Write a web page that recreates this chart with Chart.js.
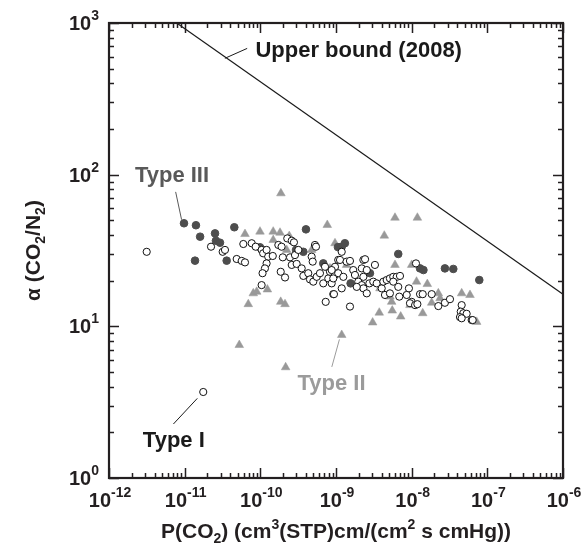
<!DOCTYPE html>
<html>
<head>
<meta charset="utf-8">
<script src="https://cdn.jsdelivr.net/npm/chart.js@4.4.1/dist/chart.umd.min.js"></script>
<style>
  html, body { margin: 0; padding: 0; background: #fff; }
  canvas { display: block; }
</style>
</head>
<body>
<canvas id="chart" width="587" height="552"></canvas>
<script>
// Type I membranes (open circles)
const typeIPerm = [
  3.15e-12, 1.76e-11, 2.23e-11, 3.18e-11, 3.41e-11, 4.87e-11, 5.67e-11, 6.27e-11, 5.96e-11, 7.69e-11,
  8.68e-11, 1.04e-10, 1.09e-10, 1.21e-10, 1.27e-10, 1.46e-10, 1.21e-10, 1.15e-10, 1.07e-10, 1.04e-10,
  1.86e-10, 2.12e-10, 1.73e-10, 1.91e-10, 1.98e-10, 2.27e-10, 2.60e-10, 2.78e-10, 2.47e-10, 2.87e-10,
  3.18e-10, 2.60e-10, 3.02e-10, 3.52e-10, 3.70e-10, 4.30e-10, 4.53e-10, 5.01e-10, 4.77e-10, 4.92e-10,
  5.27e-10, 5.44e-10, 5.56e-10, 6.14e-10, 6.79e-10, 7.91e-10, 8.77e-10, 9.2e-10, 7.31e-10, 8.33e-10,
  9.7e-10, 7.16e-10, 1.07e-9, 1.19e-9, 1.13e-9, 1.38e-9, 1.53e-9, 9.7e-10, 8.77e-10, 1.07e-9,
  1.25e-9, 9.2e-10, 1.19e-9, 9.4e-10, 1.53e-9, 1.69e-9, 1.78e-9, 2.30e-9, 2.42e-9, 2.19e-9,
  2.30e-9, 2.55e-9, 1.97e-9, 2.19e-9, 2.30e-9, 1.88e-9, 2.55e-9, 3.27e-9, 2.76e-9, 3.11e-9,
  3.45e-9, 4.02e-9, 4.22e-9, 4.68e-9, 5.16e-9, 5.71e-9, 6.34e-9, 7.01e-9, 5.71e-9, 6.65e-9,
  4.44e-9, 5.16e-9, 6.86e-9, 9.2e-9, 8.6e-9, 1.0e-8, 9.5e-9, 1.11e-8, 1.19e-8, 1.14e-8,
  1.29e-8, 1.40e-8, 1.84e-8, 2.25e-8, 2.75e-8, 3.21e-8, 4.58e-8, 4.45e-8, 4.81e-8, 5.33e-8,
  4.35e-8, 4.58e-8, 6.21e-8, 6.40e-8
];
const typeIAlpha = [
  31.0, 3.69, 33.5, 31.0, 31.9, 27.8, 27.0, 26.4, 34.9, 35.3,
  33.5, 31.9, 30.3, 31.9, 28.8, 29.1, 26.0, 24.1, 22.4, 18.7,
  22.9, 21.0, 34.4, 33.5, 28.5, 38.0, 36.7, 35.8, 28.5, 29.5,
  31.9, 25.4, 25.8, 24.1, 21.5, 22.4, 20.4, 19.7, 28.8, 26.7,
  34.4, 33.5, 21.2, 22.4, 19.2, 20.7, 19.2, 16.3, 14.5, 22.9,
  21.8, 24.7, 27.4, 31.0, 27.4, 26.7, 27.0, 24.7, 23.5, 22.4,
  21.2, 20.7, 17.8, 16.3, 13.5, 23.5, 21.8, 27.4, 27.7, 24.1,
  21.2, 23.5, 19.7, 18.7, 17.8, 18.2, 16.5, 25.4, 19.2, 19.7,
  19.2, 17.8, 19.7, 20.2, 20.7, 21.2, 21.2, 21.5, 19.7, 18.2,
  16.1, 16.5, 15.7, 17.8, 16.1, 14.5, 14.2, 13.8, 14.0, 26.0,
  16.3, 16.3, 16.3, 13.6, 14.3, 15.1, 13.8, 12.5, 12.2, 12.1,
  11.5, 11.3, 11.0, 11.0
];

// Type II membranes (grey triangles)
const typeIIPerm = [
  1.87e-10, 6.27e-11, 9.9e-11, 1.48e-10, 1.82e-10, 2.41e-10, 1.48e-10, 7.67e-10, 9.7e-10, 8.07e-11,
  8.95e-11, 1.24e-10, 6.93e-11, 1.86e-10, 2.12e-10, 5.27e-11, 2.16e-10, 2.23e-10, 4.77e-10, 8.33e-10,
  6.02e-9, 1.19e-8, 4.35e-9, 6.02e-9, 1.0e-8, 1.16e-8, 1.61e-8, 3.81e-9, 5.16e-9, 5.44e-9,
  3.73e-9, 5.54e-9, 7.16e-9, 3.05e-9, 1.40e-8, 1.84e-8, 2.25e-8, 2.37e-8, 4.58e-8, 5.90e-8,
  7.23e-8, 1.19e-9, 1.38e-9, 9.5e-9
];
const typeIIAlpha = [
  75.3, 40.6, 42.1, 42.1, 41.4, 39.4, 37.1, 46.6, 35.3, 16.5,
  16.9, 17.5, 14.0, 14.5, 14.0, 7.53, 5.37, 31.9, 31.9, 24.1,
  52.0, 52.0, 39.6, 25.4, 25.4, 19.7, 19.0, 17.8, 15.7, 14.5,
  12.3, 12.7, 11.6, 10.6, 12.2, 14.3, 16.5, 15.3, 16.5, 16.1,
  10.7, 8.77, 25.4, 13.8
];

// Type III membranes (dark filled circles)
const typeIIIPerm = [
  9.8e-12, 1.41e-11, 1.60e-11, 1.37e-11, 2.52e-11, 2.59e-11, 2.93e-11, 3.59e-11, 4.53e-11, 9.9e-11,
  1.09e-10, 4.01e-10, 2.96e-10, 3.70e-10, 6.79e-10, 1.06e-9, 1.19e-9, 1.31e-9, 6.65e-9, 1.29e-8,
  1.43e-8, 2.75e-8, 3.55e-8, 7.83e-8, 1.56e-9, 2.81e-9
];
const typeIIIAlpha = [
  47.8, 46.4, 39.0, 27.1, 41.0, 36.7, 35.6, 27.1, 45.0, 33.2,
  31.9, 43.6, 31.9, 31.0, 26.0, 33.3, 33.5, 35.3, 30.0, 24.1,
  23.5, 24.1, 23.9, 20.2, 19.2, 22.4
];

// Robeson upper bound (2008)
const boundPerm = [7.85e-12, 1e-6];
const boundAlpha = [1000, 16.3];

// tick labels (powers of ten)
const xTickExp = [-12, -11, -10, -9, -8, -7, -6];
const yTickExp = [0, 1, 2, 3];

const toPoints = (xs, ys) => xs.map((v, i) => ({ x: v, y: ys[i] }));

const FONT = '"Liberation Sans", Arial, Helvetica, sans-serif';

// annotation texts, anchored in data coordinates
const notes = [
  { text: "Upper bound (2008)", color: "#1a1a1a", at: [8.6e-11, 600], line: [[3.4e-11, 585], [6.7e-11, 680]] },
  { text: "Type III", color: "#595959", at: [2.2e-12, 89], line: [[7.6e-12, 77], [9.1e-12, 50.5]] },
  { text: "Type II", color: "#9b9b9b", at: [3.1e-10, 3.8], line: [[8.8e-10, 5.4], [1.11e-9, 8.2]] },
  { text: "Type I", color: "#1a1a1a", at: [2.8e-12, 1.6], line: [[7.1e-12, 2.27], [1.47e-11, 3.35]] }
];

function drawPower(ctx, exp, x, baseline, align) {
  ctx.font = "bold 20px " + FONT;
  const wb = ctx.measureText("10").width;
  ctx.font = "bold 14px " + FONT;
  const we = ctx.measureText(String(exp)).width;
  const start = align === "right" ? x - wb - we : x - (wb + we) / 2;
  ctx.font = "bold 20px " + FONT;
  ctx.fillText("10", start, baseline);
  ctx.font = "bold 14px " + FONT;
  ctx.fillText(String(exp), start + wb, baseline - 10);
}

// draws runs of [text, shift] where shift is "sup", "sub" or ""
function drawRich(ctx, parts, x, y, size) {
  let total = 0;
  parts.forEach(([t, s]) => {
    ctx.font = "bold " + (s ? Math.round(size * 0.68) : size) + "px " + FONT;
    total += ctx.measureText(t).width;
  });
  let cx = x - total / 2;
  parts.forEach(([t, s]) => {
    ctx.font = "bold " + (s ? Math.round(size * 0.68) : size) + "px " + FONT;
    const dy = s === "sup" ? -size * 0.42 : s === "sub" ? size * 0.22 : 0;
    ctx.fillText(t, cx, y + dy);
    cx += ctx.measureText(t).width;
  });
}

const framePlugin = {
  id: "frame",
  afterDatasetsDraw(chart) {
    const { ctx, chartArea: a, scales: { x, y } } = chart;
    ctx.save();
    ctx.strokeStyle = "#231f20";
    ctx.fillStyle = "#231f20";

    // ticks on all four sides, pointing inward
    ctx.lineWidth = 1.5;
    ctx.beginPath();
    for (let e = xTickExp[0]; e <= xTickExp[xTickExp.length - 1]; e++) {
      for (let m = 1; m <= 9; m++) {
        if (e === xTickExp[xTickExp.length - 1] && m > 1) break;
        const px = Math.round(x.getPixelForValue(m * Math.pow(10, e))) + 0.5;
        const len = m === 1 ? 10 : 5;
        ctx.moveTo(px, a.bottom); ctx.lineTo(px, a.bottom - len);
        ctx.moveTo(px, a.top); ctx.lineTo(px, a.top + len);
      }
    }
    for (let e = yTickExp[0]; e <= yTickExp[yTickExp.length - 1]; e++) {
      for (let m = 1; m <= 9; m++) {
        if (e === yTickExp[yTickExp.length - 1] && m > 1) break;
        const py = Math.round(y.getPixelForValue(m * Math.pow(10, e))) + 0.5;
        const len = m === 1 ? 10 : 5;
        ctx.moveTo(a.left, py); ctx.lineTo(a.left + len, py);
        ctx.moveTo(a.right, py); ctx.lineTo(a.right - len, py);
      }
    }
    ctx.stroke();

    // frame
    ctx.lineWidth = 2.2;
    ctx.strokeRect(a.left, a.top, a.right - a.left, a.bottom - a.top);

    // tick labels
    ctx.textBaseline = "alphabetic";
    ctx.textAlign = "left";
    xTickExp.forEach(e => {
      drawPower(ctx, e, x.getPixelForValue(Math.pow(10, e)) + 1, a.bottom + 29, "center");
    });
    yTickExp.forEach(e => {
      drawPower(ctx, e, a.left - 10, y.getPixelForValue(Math.pow(10, e)) + 7, "right");
    });

    // axis titles
    drawRich(ctx, [["P(CO", ""], ["2", "sub"], [") (cm", ""], ["3", "sup"], ["(STP)cm/(cm", ""], ["2", "sup"], [" s cmHg))", ""]],
      (a.left + a.right) / 2, 538, 21);
    ctx.save();
    ctx.translate(40, (a.top + a.bottom) / 2);
    ctx.rotate(-Math.PI / 2);
    drawRich(ctx, [["\u03b1 (CO", ""], ["2", "sub"], ["/N", ""], ["2", "sub"], [")", ""]], 0, 0, 21);
    ctx.restore();

    // annotations
    notes.forEach(n => {
      ctx.strokeStyle = n.color;
      ctx.lineWidth = 1;
      ctx.beginPath();
      ctx.moveTo(x.getPixelForValue(n.line[0][0]), y.getPixelForValue(n.line[0][1]));
      ctx.lineTo(x.getPixelForValue(n.line[1][0]), y.getPixelForValue(n.line[1][1]));
      ctx.stroke();
      ctx.fillStyle = n.color;
      ctx.font = "bold 22px " + FONT;
      ctx.fillText(n.text, x.getPixelForValue(n.at[0]), y.getPixelForValue(n.at[1]));
    });
    ctx.restore();
  }
};

new Chart(document.getElementById("chart"), {
  type: "scatter",
  data: {
    datasets: [
      {
        label: "Type I",
        data: toPoints(typeIPerm, typeIAlpha),
        pointStyle: "circle",
        pointRadius: 3.6,
        backgroundColor: "#ffffff",
        borderColor: "#111111",
        borderWidth: 1,
        order: 1
      },
      {
        label: "Type III",
        data: toPoints(typeIIIPerm, typeIIIAlpha),
        pointStyle: "circle",
        pointRadius: 3.8,
        backgroundColor: "#4d4d4d",
        borderColor: "#4d4d4d",
        borderWidth: 1,
        order: 2
      },
      {
        label: "Type II",
        data: toPoints(typeIIPerm, typeIIAlpha),
        pointStyle: "triangle",
        pointRadius: 5,
        backgroundColor: "#999999",
        borderColor: "#999999",
        borderWidth: 0.5,
        order: 3
      },
      {
        label: "Upper bound (2008)",
        data: toPoints(boundPerm, boundAlpha),
        showLine: true,
        pointRadius: 0,
        borderColor: "#1a1a1a",
        borderWidth: 1.2,
        order: 4
      }
    ]
  },
  options: {
    responsive: false,
    animation: false,
    devicePixelRatio: 1,
    layout: { padding: { left: 109, right: 24, top: 23, bottom: 74 } },
    plugins: { legend: { display: false }, tooltip: { enabled: false } },
    scales: {
      x: { type: "logarithmic", min: 1e-12, max: 1e-6, display: false },
      y: { type: "logarithmic", min: 1, max: 1000, display: false }
    }
  },
  plugins: [framePlugin]
});
</script>
</body>
</html>
